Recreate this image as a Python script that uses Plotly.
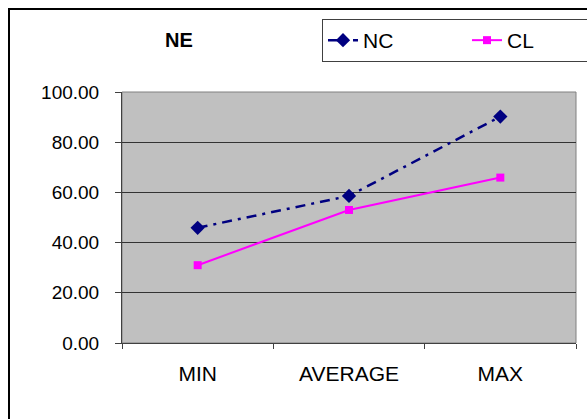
import plotly.graph_objects as go

categories = ["MIN", "AVERAGE", "MAX"]
nc_values = [45.9, 58.6, 90.2]
cl_values = [31.0, 53.0, 65.9]
y_ticks = [0, 20, 40, 60, 80, 100]
y_tick_labels = ["0.00", "20.00", "40.00", "60.00", "80.00", "100.00"]

W, H = 587, 419
L, R, T, B = 122, 11, 92, 76
pw, ph = W - L - R, H - T - B

def px_x(x):
    return (x - L) / pw

def px_y(y):
    return 1 - (y - T) / ph

fig = go.Figure()
fig.add_trace(go.Scatter(
    x=categories, y=nc_values, name="NC", mode="lines+markers",
    line=dict(color="#000080", width=2.5, dash="10px,6px,3px,6px"),
    marker=dict(symbol="diamond", size=11, color="#000080"),
))
fig.add_trace(go.Scatter(
    x=categories, y=cl_values, name="CL", mode="lines+markers",
    line=dict(color="#FF00FF", width=2),
    marker=dict(symbol="square", size=8, color="#FF00FF"),
))

font = "Arial, Liberation Sans, sans-serif"
fig.update_layout(
    width=W, height=H,
    margin=dict(l=L, r=R, t=T, b=B, autoexpand=False),
    paper_bgcolor="white",
    plot_bgcolor="#C0C0C0",
    font=dict(family=font, color="black"),
    showlegend=True,
    legend=dict(
        x=px_x(322), y=px_y(19), xanchor="left", yanchor="top",
        orientation="h", bordercolor="#404040", borderwidth=1,
        bgcolor="white", font=dict(size=21, family=font),
        entrywidth=99, entrywidthmode="pixels",
    ),
    xaxis=dict(
        type="category", range=[-0.5, 2.5], tickson="boundaries",
        ticks="outside", ticklen=5, tickcolor="#404040",
        showline=True, linecolor="#404040", linewidth=1,
        showgrid=False, zeroline=False,
        tickfont=dict(size=21, family=font), ticklabelstandoff=12,
    ),
    yaxis=dict(
        range=[0, 100], tickvals=y_ticks, ticktext=y_tick_labels,
        ticks="outside", ticklen=6, tickcolor="#404040",
        showline=True, linecolor="#404040", linewidth=1,
        showgrid=True, gridcolor="#333333", gridwidth=1,
        zeroline=False,
        tickfont=dict(size=19, family=font), ticklabelstandoff=12,
    ),
    annotations=[dict(
        text="<b>NE</b>", x=px_x(179), y=px_y(40), xref="paper", yref="paper",
        showarrow=False, font=dict(size=20, family=font), xanchor="center", yanchor="middle",
    )],
    shapes=[
        dict(type="rect", xref="paper", yref="paper", x0=0, x1=1, y0=0, y1=1,
             line=dict(color="#808080", width=1), layer="below"),
        dict(type="rect", xref="paper", yref="paper",
             x0=px_x(9), x1=px_x(W + 20), y0=px_y(H + 20), y1=px_y(9),
             line=dict(color="black", width=2)),
    ],
)

fig.write_html(
    "out.html",
    config={"displayModeBar": False},
    post_script="document.body.style.margin='0';document.body.style.overflow='hidden';",
)
